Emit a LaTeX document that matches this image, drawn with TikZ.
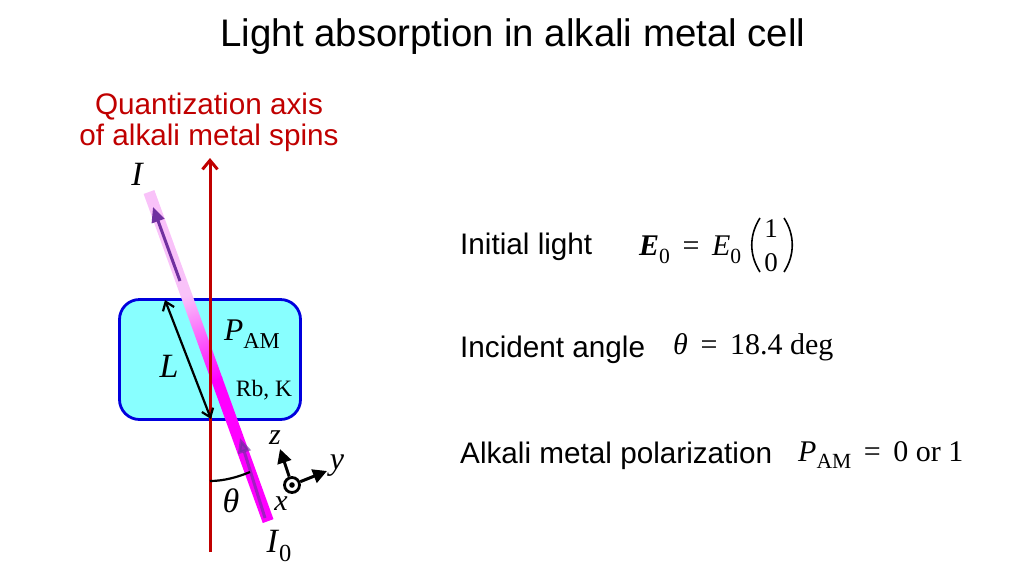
\documentclass[tikz,border=0pt]{standalone}
\usepackage{fontspec}
\setmainfont{Liberation Sans}
\newfontfamily\mathserif{Liberation Serif}
\usetikzlibrary{arrows.meta}
\definecolor{axisred}{HTML}{C00000}
\definecolor{cellfill}{HTML}{88FFFF}
\definecolor{cellline}{HTML}{0000DD}
\definecolor{beamlight}{HTML}{F9C2F9}
\definecolor{beamfull}{HTML}{FF00FF}
\definecolor{arrowpurple}{HTML}{7030A0}
\tikzset{
  sans/.style={inner sep=0pt,font=\fontsize{29.7}{31}\selectfont},
  mthbig/.style={inner sep=0pt,font=\mathserif\itshape\fontsize{34}{36}\selectfont},
  mth/.style={inner sep=0pt,font=\mathserif\fontsize{30}{32}\selectfont},
  mthsm/.style={inner sep=0pt,font=\mathserif\fontsize{23.5}{26}\selectfont},
  axisline/.style={axisred,line width=3pt,-{Straight Barb[length=9pt,width=15pt,line width=3pt]}},
  purplearrow/.style={arrowpurple,line width=3pt,-{Triangle[length=15pt,width=13pt]}},
  triad/.style={line width=3pt,-{Triangle[length=14pt,width=14pt]}},
  lenarrow/.style={black,line width=2.2pt,{Straight Barb[length=8pt,width=12pt,line width=2.2pt]}-{Straight Barb[length=8pt,width=12pt,line width=2.2pt]}}
}
\newcommand{\sub}[1]{\raisebox{-0.25em}{\fontsize{0.72em}{1em}\selectfont #1}}
\newcommand{\eqs}{\hspace{.42em}=\hspace{.42em}}
\begin{document}
\begin{tikzpicture}[x=1pt,y=-1pt]
\useasboundingbox (0,0) rectangle (1024,576);
\node[inner sep=0pt,font=\fontsize{38.4}{44}\selectfont] (title) at (513,37) {Light absorption in alkali metal cell};
\node[sans,text=axisred,align=center] (axislabel) at (209,122) {Quantization axis\\of alkali metal spins};
% cell
\node[draw=cellline,fill=cellfill,line width=2.8pt,rounded corners=20pt,minimum width=181pt,minimum height=120pt,inner sep=0pt] (cell) at (210,359.5) {};
% beam
\coordinate (beamtop) at (149,192);
\coordinate (beambot) at (268,521);
\begin{scope}[transform canvas={shift={(beamtop)},rotate=-70.1}]
  \fill[beamlight] (0,-5.7) rectangle (111,5.7);
  \shade[left color=beamlight,right color=beamfull] (110,-5.7) rectangle (200,5.7);
  \fill[beamfull] (199,-5.7) rectangle (350,5.7);
\end{scope}
% axis
\coordinate (axisb) at (210,552);
\coordinate (axist) at (210,158);
\draw[axisline] (axisb) -- (axist);
% purple arrows
\coordinate (p1a) at (180,281);
\coordinate (p1b) at (153,207);
\coordinate (p2a) at (265,518);
\coordinate (p2b) at (240,438);
\draw[purplearrow] (p1a) -- (p1b);
\draw[purplearrow,opacity=.65] (p2a) -- (p2b);
% length arrow
\coordinate (la) at (165,300);
\coordinate (lb) at (211,419);
\draw[lenarrow] (la) -- (lb);
% angle
\coordinate (ta) at (210,481);
\coordinate (tb) at (250,472);
\draw[line width=2.2pt] (ta) .. controls (224,481) and (238,477) .. (tb);
% triad
\node[draw,fill=white,circle,line width=2.8pt,minimum size=15pt,inner sep=0pt] (origin) at (292,485) {};
\coordinate (zt) at (280,449);
\coordinate (yt) at (327,471);
\draw[triad] (origin) -- (zt);
\draw[triad] (origin) -- (yt);
\fill (origin) circle (2.8pt);
% math labels
\node[mthbig] (lI) at (137,174) {I};
\node[mth,font=\mathserif\fontsize{31.5}{36}\selectfont] (lP) at (252,334) {\textit{P}\sub{AM}};
\node[mthbig] (lL) at (169,366) {L};
\node[mthsm] (lRb) at (264,390) {Rb, K};
\node[mthbig,font=\mathserif\itshape\fontsize{30}{30}\selectfont] (lz) at (275,438) {z};
\node[mthbig,font=\mathserif\itshape\fontsize{32}{30}\selectfont] (ly) at (337,466) {y};
\node[mthbig,font=\mathserif\itshape\fontsize{30}{30}\selectfont] (lx) at (281,504) {x};
\node[mthbig] (lt) at (231,501) {θ};
\node[mth,font=\mathserif\fontsize{34}{36}\selectfont] (lI0) at (279,546) {\textit{I}\sub{0}};
% right side
\node[sans,anchor=west] (t1) at (460,247) {Initial light};
\node[sans,anchor=west] (t2) at (460,350) {Incident angle};
\node[sans,anchor=west] (t3) at (460,456) {Alkali metal polarization};
\node[mth,anchor=west] (e1) at (639,250) {\textbf{\textit{E}}\sub{0}\eqs\textit{E}\sub{0}};
\node[mth,font=\mathserif\fontsize{27}{30}\selectfont] (v1) at (771,229) {1};
\node[mth,font=\mathserif\fontsize{27}{30}\selectfont] (v0) at (771,263) {0};
\draw[line width=1.6pt] (760,218) .. controls (749,235) and (749,255) .. (760,272);
\draw[line width=1.6pt] (784,218) .. controls (795,235) and (795,255) .. (784,272);
\node[mth,anchor=west] (e2) at (673,347) {\textit{θ}\eqs 18.4 deg};
\node[mth,anchor=west] (e3) at (798,455) {\textit{P}\sub{AM}\eqs 0 or 1};
\end{tikzpicture}
\end{document}
